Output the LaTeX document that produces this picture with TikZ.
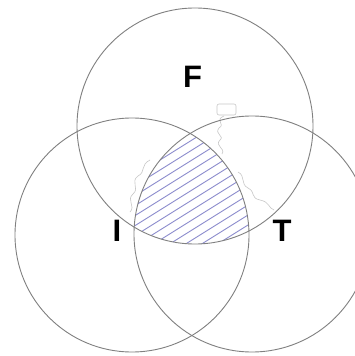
\documentclass[tikz,border=0pt]{standalone}
\usepackage{fontspec}
\setmainfont{Liberation Sans}
\begin{document}
\begin{tikzpicture}[x=1pt,y=-1pt,
  ring/.style={draw=black!50, line width=0.9pt},
  hatch/.style={draw={rgb,255:red,140;green,140;blue,205}, line width=0.9pt},
  blob/.style={draw=black!22, line width=0.6pt},
  lab/.style={font=\fontsize{31}{31}\selectfont\bfseries, inner sep=0pt}]
\useasboundingbox (0,0) rectangle (355,356);
\fill[white] (0,0) rectangle (355,356);
% hatched triple intersection
\begin{scope}
  \clip (195,126) circle[radius=118];
  \clip (132,235) circle[radius=117];
  \clip (252,234) circle[radius=118];
  \foreach \i in {-40,...,40}{
    \draw[hatch] (0,{200+\i*10}) -- (355,{200+\i*10-0.625*355});
  }
\end{scope}
% faint artifacts
\draw[blob, rounded corners=2pt] (217,104) rectangle (236,115);
\draw[blob] (224,116) .. controls (214,120) and (226,124) .. (219,128)
  .. controls (214,134) and (225,136) .. (220,140)
  .. controls (214,146) and (226,148) .. (222,154);
\draw[blob] (150,160) .. controls (140,165) and (146,172) .. (138,176)
  .. controls (130,182) and (140,188) .. (133,194)
  .. controls (126,200) and (136,206) .. (130,212);
\draw[blob] (238,172) .. controls (246,176) and (240,184) .. (248,188)
  .. controls (256,192) and (250,198) .. (260,200)
  .. controls (270,202) and (268,208) .. (274,210);
% circles
\draw[ring] (195,126) circle[radius=118];
\draw[ring] (132,235) circle[radius=117];
\draw[ring] (252,234) circle[radius=118];
% labels
\node[lab] (F) at (192.5,77) {F};
\node[lab] (I) at (117,231) {I};
\node[lab] (T) at (282,231) {T};
\end{tikzpicture}
\end{document}
